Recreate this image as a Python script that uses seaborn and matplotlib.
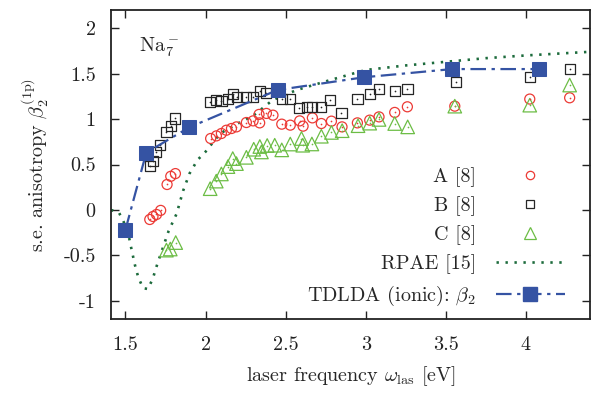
import numpy as np
import pandas as pd
import matplotlib
matplotlib.use("Agg")
import matplotlib.pyplot as plt
from matplotlib.ticker import FuncFormatter, FixedLocator
from matplotlib.lines import Line2D
import seaborn as sns

# ---------------- data ----------------
a_x = [1.652, 1.672, 1.694, 1.720, 1.760, 1.783, 1.812,
       2.032, 2.068, 2.099, 2.130, 2.162, 2.193, 2.255, 2.297, 2.334, 2.338,
       2.380, 2.421, 2.476, 2.529, 2.588, 2.609, 2.667, 2.723, 2.786, 2.852,
       2.948, 3.025, 3.083, 3.181, 3.260, 3.556, 4.024, 4.273]
a_y = [-0.105, -0.072, -0.050, -0.005, 0.280, 0.370, 0.400,
       0.786, 0.815, 0.841, 0.877, 0.896, 0.914, 0.962, 0.980, 1.051, 0.958,
       1.062, 1.043, 0.944, 0.933, 0.980, 0.922, 1.013, 0.951, 0.977, 0.914,
       0.958, 0.988, 1.024, 1.073, 1.135, 1.142, 1.220, 1.234]

b_x = [1.652, 1.672, 1.689, 1.714, 1.756, 1.783, 1.811,
       2.026, 2.064, 2.099, 2.140, 2.172, 2.198, 2.251, 2.297, 2.339, 2.376,
       2.476, 2.529, 2.582, 2.634, 2.664, 2.721, 2.775, 2.848, 2.948, 3.025,
       3.083, 3.181, 3.260, 3.562, 4.024, 4.273]
b_y = [0.480, 0.535, 0.635, 0.712, 0.855, 0.927, 1.007,
       1.190, 1.209, 1.198, 1.223, 1.275, 1.242, 1.242, 1.245, 1.308, 1.286,
       1.220, 1.217, 1.123, 1.135, 1.131, 1.131, 1.209, 1.068, 1.220, 1.272,
       1.327, 1.308, 1.327, 1.411, 1.466, 1.547]

c_x = [1.756, 1.780, 1.814, 2.029, 2.067, 2.099, 2.140, 2.170, 2.193, 2.255,
       2.301, 2.339, 2.349, 2.385, 2.432, 2.476, 2.529, 2.599, 2.607, 2.664,
       2.723, 2.786, 2.853, 2.952, 3.025, 3.083, 3.181, 3.262, 3.556, 4.024,
       4.273]
c_y = [-0.442, -0.430, -0.359, 0.234, 0.317, 0.396, 0.477, 0.565, 0.510, 0.579,
       0.668, 0.698, 0.638, 0.709, 0.712, 0.661, 0.725, 0.786, 0.712, 0.726,
       0.811, 0.853, 0.872, 0.927, 0.955, 0.996, 0.951, 0.914, 1.142, 1.153,
       1.374]

rpae_x = [1.41, 1.46, 1.50, 1.52, 1.54, 1.56, 1.58, 1.61, 1.64, 1.67, 1.70,
          1.735, 1.77, 1.82, 1.86, 1.90, 1.95, 2.00, 2.09, 2.20, 2.30, 2.42,
          2.57, 2.78, 3.00, 3.25, 3.50, 3.75, 4.00, 4.20, 4.40]
rpae_y = [0.00, -0.03, -0.17, -0.28, -0.45, -0.61, -0.74, -0.86, -0.87, -0.76,
          -0.59, -0.41, -0.23, -0.04, 0.21, 0.40, 0.55, 0.64, 0.84, 0.95, 1.04,
          1.21, 1.32, 1.43, 1.54, 1.59, 1.63, 1.67, 1.70, 1.72, 1.74]

tdlda_x = [1.50, 1.63, 1.90, 2.45, 2.99, 3.54, 4.08]
tdlda_y = [-0.22, 0.63, 0.91, 1.32, 1.46, 1.55, 1.55]

x_ticks = [1.5, 2.0, 2.5, 3.0, 3.5, 4.0]
y_ticks = [-1.0, -0.5, 0.0, 0.5, 1.0, 1.5, 2.0]

labels = ["A [8]", "B [8]", "C [8]", "RPAE [15]", r"TDLDA (ionic): $\beta_2$"]

# ---------------- style ----------------
sns.set_theme(style="ticks")
plt.rcParams["font.family"] = ["cmr10", "DejaVu Serif"]
plt.rcParams["mathtext.fontset"] = "cm"
plt.rcParams["axes.unicode_minus"] = False
plt.rcParams["axes.formatter.use_mathtext"] = True

FS = 14.5
red = "#ec3a35"
black = "#262626"
green = "#6cbd45"
blue = "#3553a3"
dgreen = "#1c6b3c"

fig = plt.figure(figsize=(5.99, 3.94), dpi=100)
ax = fig.add_axes([111 / 599, 1 - 319 / 394, 479 / 599, 309 / 394])

dfa = pd.DataFrame({"x": a_x, "y": a_y})
dfb = pd.DataFrame({"x": b_x, "y": b_y})
dfc = pd.DataFrame({"x": c_x, "y": c_y})
dfr = pd.DataFrame({"x": rpae_x, "y": rpae_y})
dft = pd.DataFrame({"x": tdlda_x, "y": tdlda_y})

sns.lineplot(data=dfr, x="x", y="y", ax=ax, color=dgreen, lw=1.9,
             linestyle=(0, (0.9, 2.5)), sort=False, zorder=2)
sns.lineplot(data=dft, x="x", y="y", ax=ax, color=blue, lw=1.6,
             linestyle=(0, (7, 2.5, 1.5, 2.5)), marker="s", markersize=9.5,
             markeredgecolor=blue, markerfacecolor=blue, sort=False, zorder=5)

sns.scatterplot(data=dfa, x="x", y="y", ax=ax, marker="o", s=52,
                facecolor="none", edgecolor=red, linewidth=0.9, zorder=3)
sns.scatterplot(data=dfb, x="x", y="y", ax=ax, marker="s", s=55,
                facecolor="none", edgecolor=black, linewidth=0.9, zorder=3)
sns.scatterplot(data=dfc, x="x", y="y", ax=ax, marker="^", s=95,
                facecolor="none", edgecolor=green, linewidth=0.9, zorder=3)
for d, c in ((dfa, red), (dfb, black), (dfc, green)):
    sns.scatterplot(data=d, x="x", y="y", ax=ax, marker="o", s=1.5,
                    color=c, linewidth=0, zorder=4)

ax.set_xlim(1.41, 4.4)
ax.set_ylim(-1.2, 2.2)
ax.xaxis.set_major_locator(FixedLocator(x_ticks))
ax.yaxis.set_major_locator(FixedLocator(y_ticks))
fmt = FuncFormatter(lambda v, p: f"{v:g}")
ax.xaxis.set_major_formatter(fmt)
ax.yaxis.set_major_formatter(fmt)
ax.tick_params(direction="in", length=6, width=1.0, top=True, right=True,
               labelsize=FS, colors="#222222")
ax.tick_params(axis="x", pad=12)
ax.tick_params(axis="y", pad=11)
for sp in ax.spines.values():
    sp.set_linewidth(1.3)
    sp.set_color("#222222")

ax.set_xlabel(r"laser frequency $\omega_{\mathrm{las}}$ [eV]", fontsize=FS,
              labelpad=8)
ax.set_ylabel(r"s.e. anisotropy $\beta_2^{(1\mathrm{p})}$", fontsize=FS,
              labelpad=9)
ax.text(0.058, 0.915, r"Na$_7^-$", transform=ax.transAxes, fontsize=FS,
        ha="left", va="top")

# legend (labels right-aligned, handles to the right)
h = [
    Line2D([], [], ls="none", marker="o", ms=6, mfc="none", mec=red, mew=0.9),
    Line2D([], [], ls="none", marker="s", ms=6, mfc="none", mec=black, mew=0.9),
    Line2D([], [], ls="none", marker="^", ms=8.5, mfc="none", mec=green, mew=0.9),
    Line2D([], [], color=dgreen, lw=1.9, ls=(0, (0.9, 2.5))),
    Line2D([], [], color=blue, lw=1.6, ls=(0, (7, 2.5, 1.5, 2.5)), marker="s",
           ms=9.5, mfc=blue, mec=blue),
]
leg = ax.legend(h, labels, loc="lower right", bbox_to_anchor=(0.97, 0.0),
                frameon=False, markerfirst=False, fontsize=FS,
                handlelength=3.4, handletextpad=1.0, labelspacing=0.47,
                borderaxespad=0.15)

fig.savefig("out.png", dpi=100)
